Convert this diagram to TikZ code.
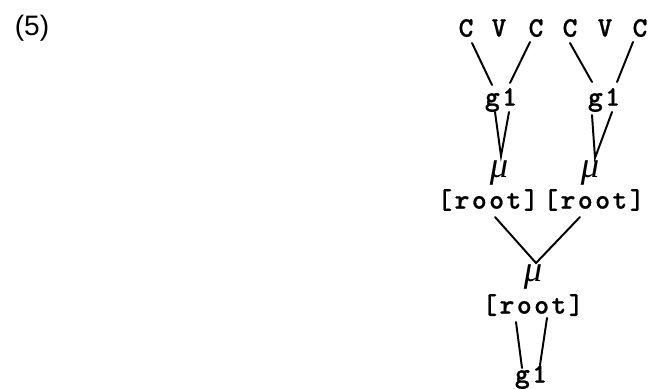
\documentclass[tikz,border=0pt]{standalone}
\usepackage{fontspec}
\newfontfamily\twfont{lmmonolt10-bold}[Extension=.otf, LetterSpace=9, FakeBold=0.9]
\newfontfamily\numfont{Liberation Sans}
\newfontfamily\morafont{Liberation Serif}
\usetikzlibrary{calc}
\tikzset{
  every picture/.style={line width=1.4pt},
  seg/.style={font=\twfont\fontsize{20}{22}\selectfont, inner sep=0pt},
  mora/.style={font=\morafont\itshape\fontsize{26}{28}\selectfont, inner sep=0pt},
  link/.style={line cap=round},
}
\begin{document}
\begin{tikzpicture}[x=0.025cm, y=-0.025cm]
  \useasboundingbox (0,0) rectangle (649,388);
  \node[font=\numfont\fontsize{20}{22}\selectfont, inner sep=0pt] (ex) at (32,28) {(5)};
  % top row of segments
  \foreach \n/\s/\x in {c1/C/466, v1/V/499, c2/C/536, c3/C/570, v2/V/605, c4/C/640}
    \node[seg] (\n) at (\x,28) {\s};
  \node[seg] (gla) at (501,100) {g1};
  \node[seg] (glb) at (604,100) {g1};
  \node[mora] (mua) at (499,173) {μ};
  \node[mora] (mub) at (590,173) {μ};
  \node[seg] (rta) at (488,200) {[root]};
  \node[seg] (rtb) at (594,200) {[root]};
  \node[mora] (muc) at (533,277) {μ};
  \node[seg] (rtc) at (533,305) {[root]};
  \node[seg] (glc) at (531,377) {g1};
  % C -> g1
  \draw[link] ($(c1)+(6,15)$) -- ($(gla)+(-9,-15)$);
  \draw[link] ($(c2)+(-6,14)$) -- ($(gla)+(9,-17)$);
  \draw[link] ($(c3)+(0,15)$) -- ($(glb)+(-12,-18)$);
  \draw[link] ($(c4)+(-7,14)$) -- ($(glb)+(13,-18)$);
  % g1 -> mu
  \draw[link] ($(gla)+(-6,12)$) -- ($(mua)+(2,-17)$) -- ($(gla)+(8,12)$);
  \draw[link] ($(glb)+(-12,15)$) -- ($(mub)+(5,-15)$) -- ($(glb)+(8,12)$);
  % roots -> mu
  \draw[link] ($(rta)+(7,17)$) -- ($(muc)+(3,-14)$) -- ($(rtb)+(-14,17)$);
  % root -> g1
  \draw[link] ($(rtc)+(-17,17)$) -- ($(glc)+(-9,-9)$);
  \draw[link] ($(rtc)+(14,13)$) -- ($(glc)+(9,-12)$);
\end{tikzpicture}
\end{document}
